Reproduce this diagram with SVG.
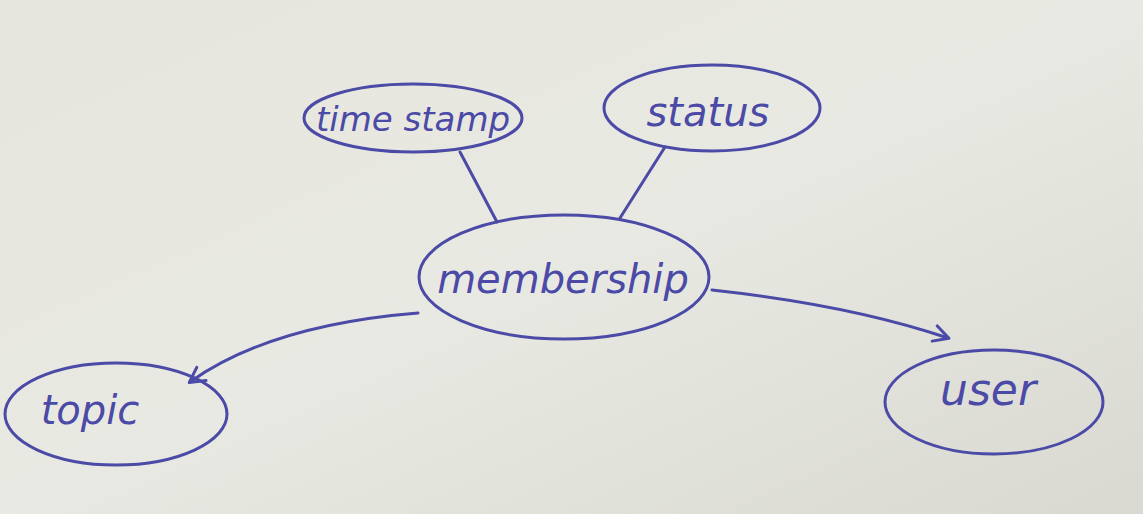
<svg xmlns="http://www.w3.org/2000/svg" width="1143" height="514" viewBox="0 0 1143 514">
<defs>
<linearGradient id="paper" x1="0" y1="0" x2="1" y2="1">
<stop offset="0" stop-color="#e6e6de"/>
<stop offset="0.5" stop-color="#e9e9e3"/>
<stop offset="1" stop-color="#d9d9d2"/>
</linearGradient>
<marker id="arr" viewBox="0 0 20 20" refX="16" refY="10" markerWidth="20" markerHeight="20" markerUnits="userSpaceOnUse" orient="auto">
<path d="M2,2 L17,10 L2,18" fill="none" stroke="#4b4aa6" stroke-width="3" stroke-linecap="round" stroke-linejoin="round"/>
</marker>
<style>
.n{fill:none;stroke:#4b4aa6;stroke-width:3}
.c{fill:none;stroke:#4b4aa6;stroke-width:3;stroke-linecap:round}
.t{font-family:"DejaVu Sans",sans-serif;font-style:oblique;fill:#4b4aa6;text-anchor:middle}
</style>
</defs>
<rect width="1143" height="514" fill="url(#paper)"/>
<g id="connectors">
<path class="c" d="M460,152 L497,222"/>
<path class="c" d="M665,147 L620,218"/>
<path class="c" d="M418,313 Q270,325 190,382" marker-end="url(#arr)"/>
<path class="c" d="M712,290 Q850,305 948,338" marker-end="url(#arr)"/>
</g>
<g id="timestamp">
<ellipse class="n" cx="413" cy="118" rx="109" ry="34"/>
<text class="t" x="413" y="131" font-size="34">time stamp</text>
</g>
<g id="status">
<ellipse class="n" cx="712" cy="108" rx="108" ry="43"/>
<text class="t" x="708" y="126" font-size="40">status</text>
</g>
<g id="membership">
<ellipse class="n" cx="564" cy="277" rx="145" ry="62"/>
<text class="t" x="563" y="293" font-size="40">membership</text>
</g>
<g id="topic">
<ellipse class="n" cx="116" cy="414" rx="111" ry="51"/>
<text class="t" x="90" y="424" font-size="40">topic</text>
</g>
<g id="user">
<ellipse class="n" cx="994" cy="402" rx="109" ry="52"/>
<text class="t" x="988" y="405" font-size="44">user</text>
</g>
</svg>
